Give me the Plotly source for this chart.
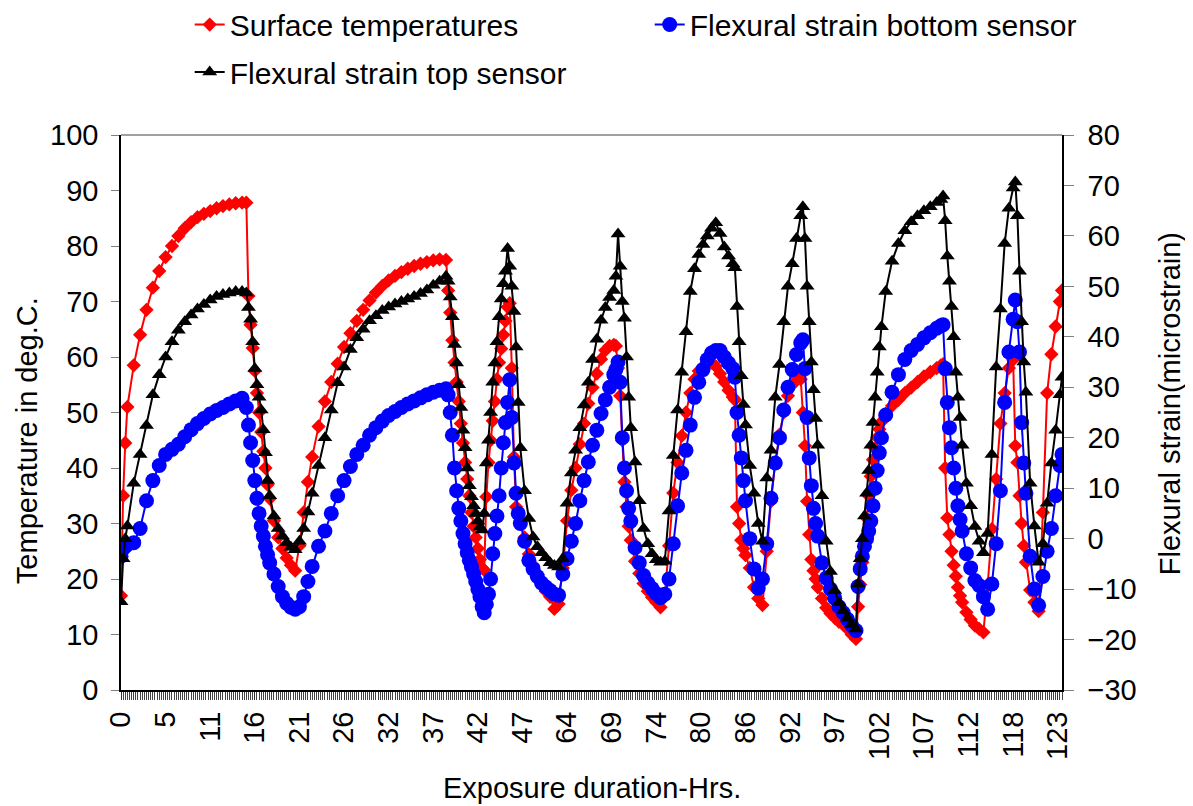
import plotly.graph_objects as go

# ---- data (category index of each sample; 15-minute readings) ----
sample_index = [
    0, 1, 2, 3, 6, 9, 12, 15, 18, 21, 24, 27, 30, 33, 36, 39, 42, 45, 48, 51, 54, 57,
    59, 60, 61, 62, 63, 64, 65, 66, 67, 68, 69, 70, 72, 74, 76, 78, 80, 82,
    84, 86, 88, 90, 93, 96, 99, 102, 105, 108, 111, 114, 117, 120, 123, 126, 129, 132, 135, 138, 141, 144, 147, 150, 153,
    154, 155, 156, 157, 158, 159, 160, 161, 162, 163, 164, 165, 166, 167, 168, 169, 170, 171,
    172, 173, 174, 175, 176, 177, 178, 179, 180, 181, 182, 183, 184, 185, 186, 187, 188,
    190, 192, 194, 196, 198, 200, 202, 204, 206,
    208, 210, 212, 214, 216, 218, 220, 222, 224, 226, 228, 230, 232,
    233, 234, 235, 236, 237, 238, 239, 240,
    242, 244, 246, 248, 250, 252, 254, 256,
    258, 260, 262, 264, 266, 268, 270, 272, 274, 276, 278, 280, 282, 284, 286, 288,
    289, 290, 291, 292, 293, 294,
    296, 298, 300, 302, 304, 306, 308, 310, 312, 314, 316, 318, 320,
    321, 322, 323, 324, 325, 326, 327, 328,
    330, 332, 334, 336, 338, 340, 342, 344, 346,
    347, 348, 349, 350, 351, 352, 353, 354, 355, 356, 357, 358,
    360, 363, 366, 369, 372, 375, 378, 381, 384, 386, 387,
    388, 389, 390, 391, 392, 393, 394, 395, 396,
    398, 400, 402, 404, 406, 408, 410, 412, 414, 416, 418, 420,
    421, 422, 423, 424, 425, 426,
    428, 430, 432, 434, 436, 438, 440, 442, 443,
]

surface_temp = [
    17, 35, 44.5, 51, 58.5, 64, 68.5, 72.5, 75.5, 78, 80, 81.8, 83.2, 84.3, 85.2, 85.8, 86.3, 86.8, 87.2, 87.5, 87.7, 87.8,
    87.8, 71, 65.8, 61.6, 57.5, 53.5, 50, 46.5, 43, 40, 37, 34.5, 30.5, 27.5, 25.5, 23.8, 22.5, 21.5,
    26, 32, 37.5, 42, 47.5, 52, 55.5, 58.8, 61.8, 64.3, 66.5, 68.5, 70.2, 71.6, 72.8, 73.8, 74.6, 75.3, 75.9, 76.4, 76.8, 77.1, 77.4, 77.6, 77.5,
    72, 68, 63, 59, 55.5, 52, 48, 44.5, 41, 38, 35, 32, 29.5, 27.5, 25.5, 23.5, 22, 21.6,
    34.8, 41, 45, 48.5, 52, 56, 59, 61.5, 64, 66.5, 69, 69.7, 58, 42, 33, 31.5, 30,
    27.5, 24.5, 22.5, 20.8, 19.3, 17.8, 16.8, 14.6, 15.5,
    22, 30.5, 36, 40, 44.3, 48, 51.6, 54.5, 57, 59.6, 61.2, 62, 62.2,
    62, 58, 53, 45, 37.5, 33, 29.5, 27,
    23.2, 21, 19.2, 17.8, 16.7, 15.8, 14.9, 17,
    26, 35.5, 41, 45.8, 50, 53.5, 56, 57.5, 58.3, 58.8, 59, 58.3, 57, 55.5, 54, 52.8,
    52.3, 33, 30, 27, 25.5, 24.3,
    22, 18.5, 16.5, 15.3, 25, 34, 41, 46, 50, 53, 55, 56.5, 56,
    50, 44, 34, 28, 23.5, 21.5, 20, 18.5,
    16.5, 14.8, 13.8, 13, 12.3, 11.8, 11, 10, 9.2,
    15, 19, 23, 27, 31, 35, 38.5, 41.5, 43.5, 45.5, 47, 48.3,
    49.8, 51.2, 52.3, 53.5, 54.5, 55.5, 56.5, 57.3, 58, 58.5, 58.7,
    40, 31, 28, 25, 22.5, 20.5, 18.5, 17, 15.8,
    14, 12.7, 11.6, 11, 10.4, 19, 29, 38, 48, 53.5, 58, 59.5,
    44, 41, 35, 30, 26, 23,
    18, 15.8, 14.2, 32, 53.5, 60.5, 65.5, 70, 72,
]

strain_top = [
    -12.5, -4, 0, 2.5, 11, 16.7, 22.4, 28.5, 32.5, 36, 39, 41.3, 43, 44.3, 45.5, 46.4, 47.3, 48, 48.4, 48.7, 49, 49,
    48.7, 45.8, 43.5, 39, 33.7, 30.5, 28, 25.5, 21.6, 17, 11.5, 8.5, 4.5, 2, 0.5, -0.8, -1.7, -2.2,
    -0.5, 2, 5.3, 9, 14.5, 20, 25.5, 30.9, 34, 37.5, 39.8, 41.5, 43.2, 44.2, 45.2, 45.9, 46.5, 47, 47.5, 48, 48.6, 49.3, 50.2, 51, 52,
    51, 47.9, 44, 38.5, 34.8, 30.5, 26, 21.5, 18, 14, 10.5, 8.3, 6.5, 5, 3.5, 2.3, 1.7, 5,
    15, 19.5, 25, 31, 34.8, 39, 44, 47.5, 50.5, 53, 57.5, 54, 50, 45, 38, 27, 18,
    9.5, 4, 0.3, -1.6, -2.8, -3.8, -4.8, -5.3, -5.6,
    -4, 7, 13, 17.5, 22, 26.5, 31, 35.5, 39.5, 43.3, 45.8, 47.8, 49.2,
    52, 60.4, 54, 47, 43.7, 36, 28, 22,
    15.2, 7.5, 2, -1, -3, -4.2, -4.7, -4.5,
    5.5, 16.5, 25.5, 33, 41, 49, 53.5, 56.3, 58.3, 60, 61.5, 62.6, 60.5, 57.8, 56, 54.5,
    53.7, 46, 39, 32.3, 26.6, 22.5,
    14.5, 9, 3, -0.5, 12, 17.5, 28, 34.5, 43, 50, 54.5, 59.5, 64,
    65.8, 59.5, 50, 43, 35, 29.5, 23.8, 18.5,
    8.5, -0.5, -6.5, -10.3, -12.7, -14.3, -15.8, -17, -17.9,
    -9, -4, 0, 4.5, 9, 13.5, 18.5, 23, 28, 33, 38, 42,
    49, 55, 58.5, 61, 62.8, 64, 65, 65.8, 66.6, 67.2, 67.9,
    63, 56, 51, 46, 40, 33, 28, 24, 18.5,
    11, 6.5, 2.4, -0.5, -2.8, 1, 16.7, 34, 45.5, 58.5, 65.5, 69.5,
    70.7, 64, 53, 43, 35, 29,
    11, 2.5, -4.7, -1, 7, 15, 21.5, 28.5, 32,
]

strain_bottom = [
    -3.5, -2, -1.5, -1.2, -0.8, 2, 7.5, 11.5, 14.5, 16.7, 17.7, 18.7, 20.2, 21.6, 22.8, 23.8, 24.7, 25.4, 26, 26.7, 27.3, 27.8,
    26, 22.5, 19, 15.5, 11.5, 8, 5, 2.5, 0.5, -1.5, -3.2, -4.8, -7, -9.5, -11.5, -12.8, -13.6, -14,
    -13.5, -11.5, -8.5, -5.5, -1.5, 1.5, 5, 8.5, 11.5, 14.3, 16.7, 18.5, 20.5, 22, 23.3, 24.4, 25.2, 26, 26.7, 27.3, 27.9, 28.5, 29, 29.4, 29.7,
    28.5, 25, 20.5, 14, 9.5, 6, 3.5, 1, -1, -2.8, -4.3, -5.6, -7, -8.5, -10, -11.5, -13.5, -14.7,
    -13, -11, -8, -3, 1, 4.5, 8.5, 14, 19, 23, 27, 31.5, 24, 15, 9, 5, 3,
    -0.5, -4.3, -6, -7.5, -8.8, -9.6, -10.3, -11, -11.2,
    -7, -4, -0.5, 3, 7.5, 11.5, 15.2, 18.5, 21.5, 24.8, 27.5, 30, 32.5,
    33.5, 35, 31, 20, 14, 9.5, 6, 3.5,
    -1.8, -4.8, -7.3, -8.8, -9.9, -10.9, -11.7, -11,
    -8, -1, 6.5, 13, 17.5, 22.5, 28, 31, 33.5, 35.5, 36.8, 37.3, 37.3, 36, 34.8, 33.7,
    32, 25, 20.5, 16, 11.5, 7.5,
    0, -6, -9.8, -8, -1, 8, 15, 20, 25.5, 30, 33.5, 36.5, 38.8,
    39.4, 33.7, 24, 16, 10.5, 6, 3, 0.5,
    -4.8, -7.8, -10, -11.8, -13.5, -14.7, -16, -17.2, -18.2,
    -9.5, -6, -3.5, -1.5, 0, 1.5, 3.5, 6.5, 10, 13.5, 17, 20,
    24.5, 29, 32.5, 35.5, 37.3, 38.5, 39.8, 40.8, 41.7, 42.2, 42.4,
    33.7, 27, 22, 18, 14, 10, 6.5, 3.8, 1.5,
    -3, -5.8, -8.3, -9.3, -11.5, -14, -9, -1, 9.5, 27, 37, 43.5,
    47.3, 43, 37, 23, 15, 9,
    -3.5, -10, -13.2, -7.5, -2.5, 2, 8.5, 14.5, 16.7,
]

# category-axis labels (every 21st category)
tick_index = [0, 21, 42, 63, 84, 105, 126, 147, 168, 189, 210, 231, 252, 273, 294, 315, 336, 357, 378, 399, 420, 441]
tick_labels = ["0", "5", "11", "16", "21", "26", "32", "37", "42", "47", "64",
               "69", "74", "80", "86", "92", "97", "102", "107", "112", "118", "123"]
last_category = 443

assert len(sample_index) == len(surface_temp) == len(strain_top) == len(strain_bottom)

FONT = "Liberation Sans, Arial, sans-serif"
FS = 29
FS_LEG = 30

fig = go.Figure()
fig.add_trace(go.Scatter(
    x=sample_index, y=surface_temp, name="Surface temperatures",
    mode="lines+markers", yaxis="y", legend="legend",
    line=dict(color="#FF0000", width=2),
    marker=dict(symbol="diamond", size=11, color="#FF0000", line=dict(width=0)),
))
fig.add_trace(go.Scatter(
    x=sample_index, y=strain_bottom, name="Flexural strain bottom sensor",
    mode="lines+markers", yaxis="y2", legend="legend",
    line=dict(color="#0000FF", width=2),
    marker=dict(symbol="circle", size=15, color="#0000FF", line=dict(width=0)),
))
fig.add_trace(go.Scatter(
    x=sample_index, y=strain_top, name="Flexural strain top sensor",
    mode="lines+markers", yaxis="y2", legend="legend2",
    line=dict(color="#000000", width=2),
    marker=dict(symbol="triangle-up", size=13, color="#000000", line=dict(width=0)),
))

# The page body adds an 8 px offset, so the figure is 8 px smaller and margins shifted.
fig.update_layout(
    width=1185, height=798,
    margin=dict(l=113, r=131, t=127, b=116, autoexpand=False),
    paper_bgcolor="white", plot_bgcolor="white",
    font=dict(family=FONT, size=FS, color="black"),
    xaxis=dict(
        range=[0, last_category], tickmode="array", tickvals=tick_index, ticktext=tick_labels,
        tickangle=-90, ticks="outside", ticklen=8, tickwidth=1, tickcolor="#333333",
        showline=True, linecolor="black", linewidth=2, showgrid=False, zeroline=False,
        minor=dict(tickmode="linear", tick0=0, dtick=1, ticks="outside", ticklen=8,
                   tickwidth=1, tickcolor="#444444", showgrid=False),
        tickfont=dict(family=FONT, size=FS), automargin=False,
    ),
    yaxis=dict(
        range=[0, 100], tickmode="linear", tick0=0, dtick=10,
        ticks="outside", ticklen=8, tickcolor="#808080", tickwidth=1,
        showline=True, linecolor="black", linewidth=1.5, showgrid=False, zeroline=False,
        ticklabelstandoff=7, tickfont=dict(family=FONT, size=FS), automargin=False,
    ),
    yaxis2=dict(
        range=[-30, 80], tickmode="linear", tick0=-30, dtick=10, overlaying="y", side="right",
        ticks="outside", ticklen=10, tickcolor="#808080", tickwidth=1,
        showline=True, linecolor="black", linewidth=1.5, showgrid=False, zeroline=False,
        ticklabelstandoff=8, tickfont=dict(family=FONT, size=FS), automargin=False,
    ),
    legend=dict(
        orientation="h", x=0.073, xanchor="left", y=1.199, yanchor="middle",
        entrywidth=415, entrywidthmode="pixels", bgcolor="rgba(0,0,0,0)",
        font=dict(family=FONT, size=FS_LEG), itemsizing="trace", traceorder="normal",
    ),
    legend2=dict(
        orientation="h", x=0.073, xanchor="left", y=1.1135, yanchor="middle",
        bgcolor="rgba(0,0,0,0)", font=dict(family=FONT, size=FS_LEG), itemsizing="trace",
    ),
    shapes=[dict(type="line", xref="paper", yref="paper", x0=0, x1=1, y0=1, y1=1,
                 line=dict(color="#808080", width=1.5))],
    annotations=[
        dict(text="Temperature in deg.C.", xref="paper", yref="paper", x=-0.1, y=0.45,
             textangle=-90, showarrow=False, font=dict(family=FONT, size=FS),
             xanchor="center", yanchor="middle"),
        dict(text="Flexural strain(microstrain)", xref="paper", yref="paper", x=1.1148, y=0.515,
             textangle=-90, showarrow=False, font=dict(family=FONT, size=FS),
             xanchor="center", yanchor="middle"),
        dict(text="Exposure duration-Hrs.", xref="paper", yref="paper", x=0.5, y=-0.1766,
             showarrow=False, font=dict(family=FONT, size=FS),
             xanchor="center", yanchor="middle"),
    ],
)

fig.write_html("out.html")
